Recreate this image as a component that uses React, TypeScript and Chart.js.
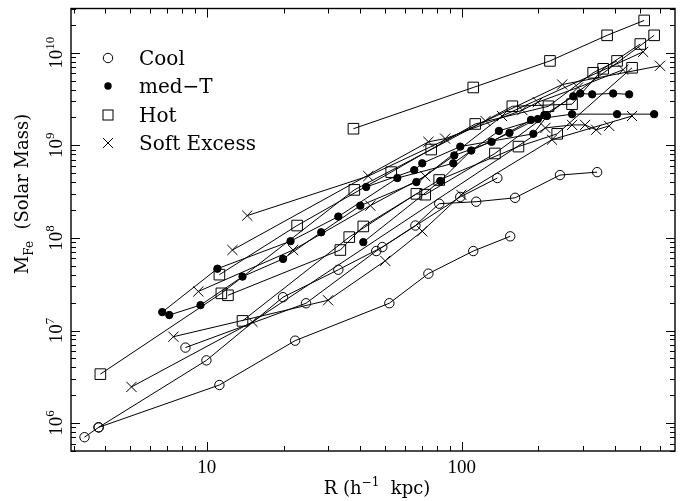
import { useEffect, useRef } from "react";
import { Chart, registerables } from "chart.js";

Chart.register(...registerables);

// ---- Data: [R (h^-1 kpc), M_Fe (Solar Mass)] ----
const cool1 = [[3.76, 9.0e5], [11.2, 2.58e6], [22.2, 7.77e6], [52.0, 1.97e7], [74.0, 4.11e7], [111, 7.21e7], [155, 1.04e8]];
const cool2 = [[3.31, 7.05e5], [3.76, 9.0e5], [9.96, 4.76e6], [19.9, 2.29e7], [32.8, 4.53e7], [48.8, 7.96e7], [65.8, 1.36e8], [81.6, 2.34e8], [114, 2.46e8], [162, 2.71e8], [243, 4.77e8], [340, 5.13e8]];
const cool3 = [[8.24, 6.54e6], [24.5, 1.97e7], [46.2, 7.21e7], [98.7, 2.77e8], [138, 4.43e8]];

const medT1 = [[6.68, 1.58e7], [11.0, 4.65e7], [21.3, 9.22e7], [32.8, 1.70e8], [55.9, 4.43e8], [92.7, 6.39e8], [140, 1.43e9], [199, 1.92e9], [274, 3.38e9], [292, 3.63e9], [325, 3.55e9], [393, 3.63e9], [454, 3.55e9]];
const medT2 = [[7.12, 1.47e7], [9.44, 1.88e7], [13.8, 3.82e7], [19.9, 5.93e7], [28.1, 1.15e8], [40.0, 2.23e8], [66.4, 4.01e8], [93.5, 7.78e8], [131, 1.09e9], [187, 1.88e9], [271, 2.17e9], [407, 2.17e9], [569, 2.17e9]];
const medT3 = [[41.1, 9.0e7], [82.4, 4.11e8], [109, 8.78e8], [154, 1.36e9], [211, 2.12e9]];
const medT4 = [[42.2, 3.55e8], [65.1, 5.39e8], [70.0, 6.39e8], [98.7, 9.68e8], [191, 1.33e9], [216, 2.07e9]];

const hot1 = [[37.6, 1.51e9], [111, 4.21e9], [222, 8.15e9], [372, 1.54e10], [520, 2.23e10]];
const hot2 = [[3.82, 3.38e6], [11.4, 2.52e7], [37.9, 3.30e8], [75.9, 9.0e8], [158, 2.64e9], [271, 2.78e9], [359, 6.7e9], [502, 1.24e10]];
const hot3 = [[11.2, 4.01e7], [22.6, 1.36e8], [52.9, 5.13e8], [113, 1.70e9], [219, 2.64e9], [328, 6.07e9], [407, 8.15e9]];
const hot4 = [[12.1, 2.40e7], [33.4, 7.40e7], [41.1, 1.33e8], [81.6, 4.22e8], [167, 9.68e8], [237, 1.33e9], [466, 6.87e9]];
const hot5 = [[13.8, 1.27e7], [36.2, 1.02e8], [66.4, 2.99e8], [71.9, 2.93e8], [135, 8.16e8], [569, 1.54e10]];

const soft1 = [[14.4, 1.74e8], [43.0, 4.65e8], [124, 1.83e9], [248, 4.53e9], [600, 7.22e9]];
const soft2 = [[12.6, 7.40e7], [74.0, 1.09e9], [86.1, 1.18e9], [173, 2.40e9], [199, 2.92e9], [286, 4.21e9], [430, 6.55e9]];
const soft3 = [[9.26, 2.64e7], [21.8, 7.40e7], [43.8, 2.23e8], [71.9, 4.65e8], [144, 2.07e9], [515, 1.02e10]];
const soft4 = [[7.39, 8.57e6], [29.9, 2.12e7], [50.1, 5.65e7], [70.0, 1.18e8], [99.6, 2.92e8], [226, 1.15e9], [466, 2.07e9]];
const soft5 = [[5.06, 2.46e6], [15.1, 1.24e7], [213, 1.54e9], [271, 1.66e9], [305, 1.66e9], [337, 1.47e9], [379, 1.62e9]];

const coolSeries = [cool1, cool2, cool3];
const medTSeries = [medT1, medT2, medT3, medT4];
const hotSeries = [hot1, hot2, hot3, hot4, hot5];
const softSeries = [soft1, soft2, soft3, soft4, soft5];

const legendLabels = ["Cool", "med\u2212T", "Hot", "Soft Excess"];
const xTickValues = [10, 100];
const xTickLabels = ["10", "100"];
const yTickValues = [1e6, 1e7, 1e8, 1e9, 1e10];
const yTickExponents = ["6", "7", "8", "9", "10"];

const X_MIN = 2.93;
const X_MAX = 687;
const Y_MIN = 5e5;
const Y_MAX = 3e10;

type Part = { text: string; font: string; dy: number };

function richWidth(ctx: CanvasRenderingContext2D, parts: Part[]) {
  let w = 0;
  for (const p of parts) {
    ctx.font = p.font;
    w += ctx.measureText(p.text).width;
  }
  return w;
}

function drawRich(ctx: CanvasRenderingContext2D, parts: Part[], x: number, y: number, center: boolean) {
  let cx = center ? x - richWidth(ctx, parts) / 2 : x;
  ctx.textAlign = "left";
  ctx.textBaseline = "alphabetic";
  for (const p of parts) {
    ctx.font = p.font;
    ctx.fillText(p.text, cx, y + p.dy);
    cx += ctx.measureText(p.text).width;
  }
}

const framePlugin = {
  id: "framePlugin",
  afterDraw(chart: any) {
    const ctx: CanvasRenderingContext2D = chart.ctx;
    const { left, right, top, bottom } = chart.chartArea;
    const xs = chart.scales.x;
    const ys = chart.scales.y;
    ctx.save();
    ctx.strokeStyle = "#000";
    ctx.fillStyle = "#000";
    // frame
    ctx.lineWidth = 1.4;
    ctx.strokeRect(left, top, right - left, bottom - top);
    // ticks
    ctx.lineWidth = 1;
    ctx.beginPath();
    for (let d = 0; d <= 3; d++) {
      for (let m = 1; m <= 9; m++) {
        const v = m * Math.pow(10, d);
        if (v < X_MIN || v > X_MAX) continue;
        const px = Math.round(xs.getPixelForValue(v)) + 0.5;
        const len = m === 1 ? 9 : 5;
        ctx.moveTo(px, bottom);
        ctx.lineTo(px, bottom - len);
        ctx.moveTo(px, top);
        ctx.lineTo(px, top + len);
      }
    }
    for (let d = 5; d <= 10; d++) {
      for (let m = 1; m <= 9; m++) {
        const v = m * Math.pow(10, d);
        if (v < Y_MIN || v > Y_MAX) continue;
        const py = Math.round(ys.getPixelForValue(v)) + 0.5;
        const len = m === 1 ? 9 : 5;
        ctx.moveTo(left, py);
        ctx.lineTo(left + len, py);
        ctx.moveTo(right, py);
        ctx.lineTo(right - len, py);
      }
    }
    ctx.stroke();

    const numFont = "19px 'Liberation Serif', serif";
    const supFont = "13px 'Liberation Serif', serif";
    // x tick labels
    xTickValues.forEach((v, i) => {
      const px = xs.getPixelForValue(v);
      drawRich(ctx, [{ text: xTickLabels[i], font: numFont, dy: 0 }], px, bottom + 22, true);
    });
    // y tick labels (rotated)
    yTickValues.forEach((v, i) => {
      const py = ys.getPixelForValue(v);
      ctx.save();
      ctx.translate(62, py);
      ctx.rotate(-Math.PI / 2);
      drawRich(
        ctx,
        [
          { text: "10", font: numFont, dy: 0 },
          { text: yTickExponents[i], font: supFont, dy: -8 },
        ],
        0,
        0,
        true
      );
      ctx.restore();
    });

    const titleFont = "18px 'DejaVu Serif', serif";
    const smallFont = "12px 'DejaVu Serif', serif";
    // x title
    drawRich(
      ctx,
      [
        { text: "R (h", font: titleFont, dy: 0 },
        { text: "\u22121", font: smallFont, dy: -8 },
        { text: "  kpc)", font: titleFont, dy: 0 },
      ],
      (left + right) / 2 + 4,
      bottom + 43,
      true
    );
    // y title
    ctx.save();
    ctx.translate(28, 194);
    ctx.rotate(-Math.PI / 2);
    drawRich(
      ctx,
      [
        { text: "M", font: titleFont, dy: 0 },
        { text: "Fe", font: smallFont, dy: 5 },
        { text: "  (Solar Mass)", font: titleFont, dy: 0 },
      ],
      0,
      0,
      true
    );
    ctx.restore();

    // legend
    const lx = 108;
    const rows = [58, 86, 115, 143];
    ctx.lineWidth = 1;
    // circle
    ctx.beginPath();
    ctx.arc(lx, rows[0], 4.7, 0, Math.PI * 2);
    ctx.stroke();
    // dot
    ctx.beginPath();
    ctx.arc(lx, rows[1], 3.7, 0, Math.PI * 2);
    ctx.fill();
    // square
    ctx.strokeRect(lx - 5, rows[2] - 5, 10, 10);
    // cross
    ctx.beginPath();
    ctx.moveTo(lx - 5, rows[3] - 5);
    ctx.lineTo(lx + 5, rows[3] + 5);
    ctx.moveTo(lx + 5, rows[3] - 5);
    ctx.lineTo(lx - 5, rows[3] + 5);
    ctx.stroke();
    const legFont = "20px 'DejaVu Serif', serif";
    legendLabels.forEach((t, i) => {
      drawRich(ctx, [{ text: t, font: legFont, dy: 0 }], 139, rows[i] + 7, false);
    });
    ctx.restore();
  },
};

function makeDataset(series: number[][], style: string, radius: number, fill: string) {
  return {
    data: series.map(([x, y]) => ({ x, y })),
    showLine: true,
    borderColor: "#000",
    borderWidth: 1,
    pointStyle: style,
    pointRadius: radius,
    pointBorderColor: "#000",
    pointBackgroundColor: fill,
    pointBorderWidth: 1,
    tension: 0,
    fill: false,
  };
}

export default function App() {
  const canvasRef = useRef<HTMLCanvasElement | null>(null);

  useEffect(() => {
    if (!canvasRef.current) return;
    const datasets = [
      ...coolSeries.map((s) => makeDataset(s, "circle", 4.7, "rgba(0,0,0,0)")),
      ...medTSeries.map((s) => makeDataset(s, "circle", 3.7, "#000")),
      ...hotSeries.map((s) => makeDataset(s, "rect", 7.5, "rgba(0,0,0,0)")),
      ...softSeries.map((s) => makeDataset(s, "crossRot", 7.2, "rgba(0,0,0,0)")),
    ];
    const chart = new Chart(canvasRef.current, {
      type: "scatter",
      data: { datasets: datasets as any },
      options: {
        animation: false,
        responsive: true,
        maintainAspectRatio: false,
        events: [],
        layout: { padding: { left: 71, top: 3, right: 17, bottom: 50 } },
        plugins: { legend: { display: false }, tooltip: { enabled: false } },
        scales: {
          x: { type: "logarithmic", min: X_MIN, max: X_MAX, display: false },
          y: { type: "logarithmic", min: Y_MIN, max: Y_MAX, display: false },
        },
      },
      plugins: [framePlugin],
    });
    return () => chart.destroy();
  }, []);

  return (
    <div style={{ position: "absolute", left: 0, top: 0, width: 692, height: 501, background: "#fff" }}>
      <canvas ref={canvasRef} />
    </div>
  );
}
